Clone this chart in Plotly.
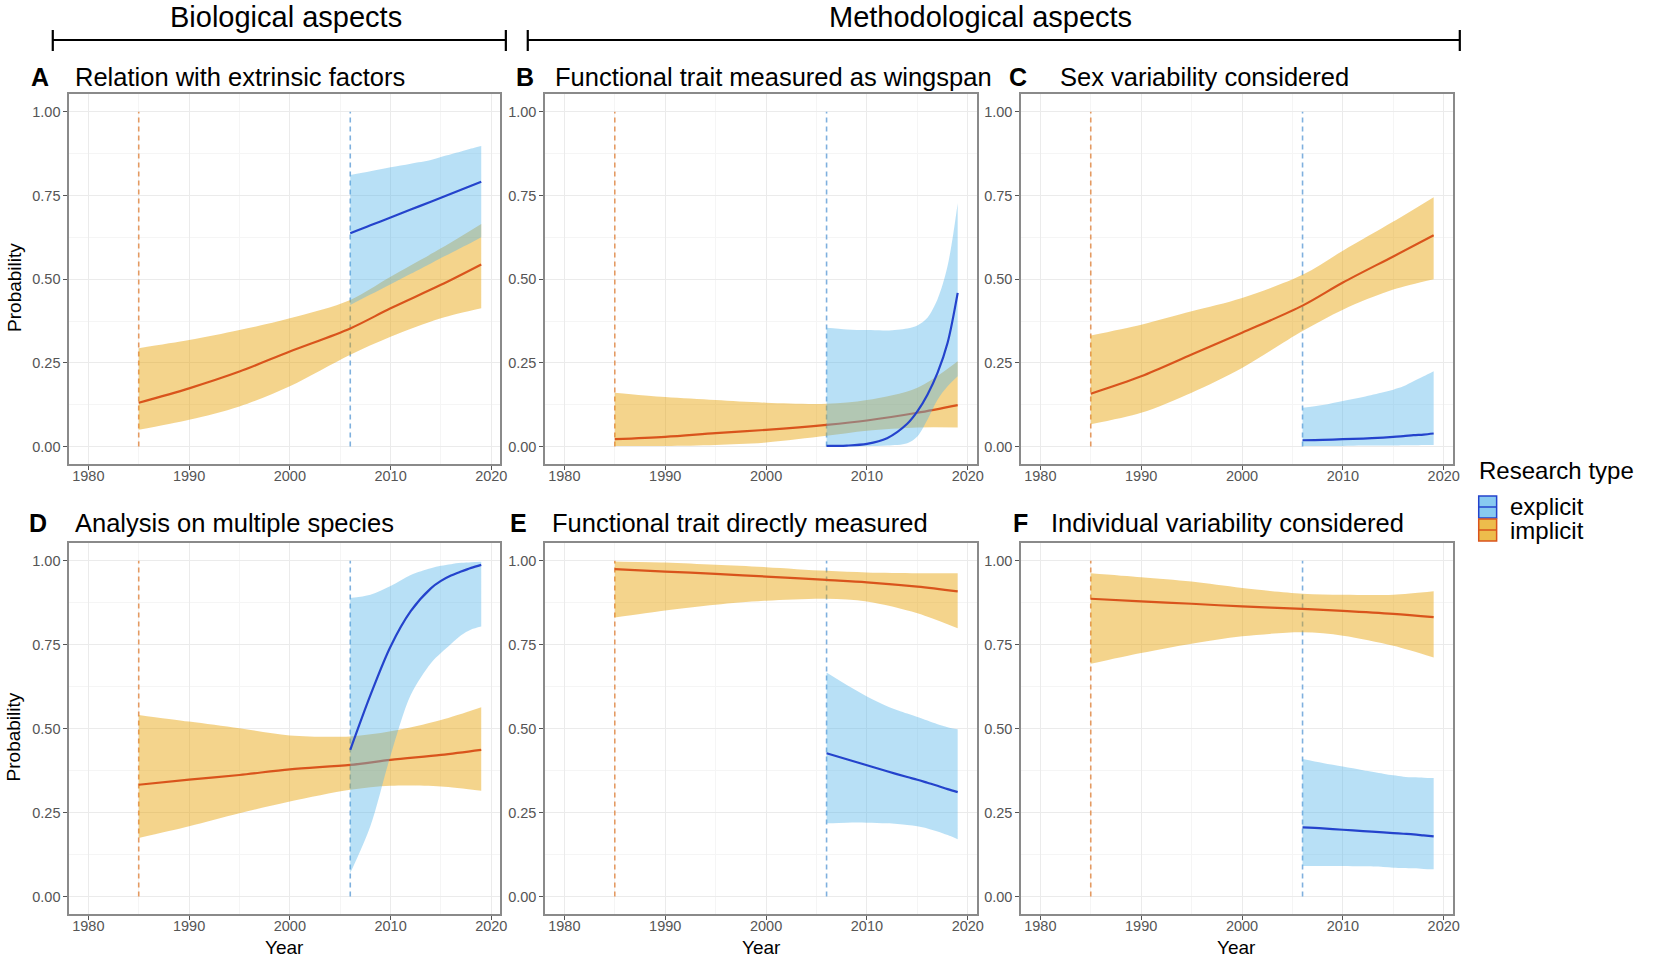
import plotly.graph_objects as go

# ---------------- data ----------------
IMP_YEARS = [1985, 1990, 1995, 2000, 2006, 2010, 2015, 2019]
EXP_YEARS = [2006, 2008, 2010, 2012, 2014, 2015, 2016, 2017, 2018, 2019]
IMPLICIT_START = 1985
EXPLICIT_START = 2006

PANEL_LETTERS = ["A", "B", "C", "D", "E", "F"]
PANEL_TITLES = [
    "Relation with extrinsic factors",
    "Functional trait measured as wingspan",
    "Sex variability considered",
    "Analysis on multiple species",
    "Functional trait directly measured",
    "Individual variability considered",
]
GROUP_TITLES = ["Biological aspects", "Methodological aspects"]
X_TICKS = [1980, 1990, 2000, 2010, 2020]
X_MINOR = [1985, 1995, 2005, 2015]
Y_TICKS = [0.0, 0.25, 0.5, 0.75, 1.0]
Y_TICK_LABELS = ["0.00", "0.25", "0.50", "0.75", "1.00"]
Y_MINOR = [0.125, 0.375, 0.625, 0.875]
LEGEND_TITLE = "Research type"
LEGEND_LABELS = ["explicit", "implicit"]

# Panel A
A_IMP_MID = [0.131, 0.174, 0.224, 0.284, 0.353, 0.413, 0.483, 0.544]
A_IMP_HI = [0.294, 0.318, 0.348, 0.383, 0.438, 0.507, 0.592, 0.665]
A_IMP_LO = [0.050, 0.080, 0.120, 0.180, 0.274, 0.328, 0.383, 0.413]
A_EXP_MID = [0.637, 0.661, 0.684, 0.708, 0.731, 0.743, 0.755, 0.767, 0.779, 0.791]
A_EXP_HI = [0.811, 0.822, 0.834, 0.845, 0.856, 0.865, 0.873, 0.881, 0.890, 0.898]
A_EXP_LO = [0.423, 0.454, 0.485, 0.516, 0.547, 0.563, 0.578, 0.594, 0.609, 0.625]
# Panel B
B_IMP_MID = [0.022, 0.029, 0.040, 0.050, 0.065, 0.078, 0.101, 0.124]
B_IMP_HI = [0.161, 0.148, 0.139, 0.131, 0.128, 0.139, 0.176, 0.255]
B_IMP_LO = [0.002, 0.002, 0.005, 0.012, 0.032, 0.047, 0.057, 0.057]
B_EXP_MID = [0.002, 0.003, 0.008, 0.025, 0.068, 0.105, 0.155, 0.220, 0.310, 0.459]
B_EXP_HI = [0.355, 0.350, 0.348, 0.347, 0.353, 0.362, 0.385, 0.440, 0.540, 0.727]
B_EXP_LO = [0.000, 0.000, 0.001, 0.003, 0.010, 0.030, 0.080, 0.140, 0.180, 0.210]
# Panel C
C_IMP_MID = [0.158, 0.210, 0.275, 0.340, 0.421, 0.490, 0.568, 0.631]
C_IMP_HI = [0.332, 0.364, 0.404, 0.444, 0.513, 0.585, 0.672, 0.745]
C_IMP_LO = [0.067, 0.101, 0.161, 0.235, 0.345, 0.409, 0.469, 0.500]
C_EXP_MID = [0.019, 0.020, 0.022, 0.024, 0.027, 0.029, 0.031, 0.034, 0.036, 0.039]
C_EXP_HI = [0.116, 0.124, 0.136, 0.148, 0.162, 0.170, 0.180, 0.195, 0.210, 0.225]
C_EXP_LO = [0.002, 0.002, 0.002, 0.003, 0.003, 0.003, 0.004, 0.004, 0.005, 0.005]
# Panel D
D_IMP_MID = [0.333, 0.348, 0.362, 0.379, 0.392, 0.407, 0.422, 0.437]
D_IMP_HI = [0.541, 0.521, 0.501, 0.480, 0.477, 0.492, 0.526, 0.564]
D_IMP_LO = [0.174, 0.209, 0.248, 0.283, 0.318, 0.330, 0.328, 0.315]
D_EXP_MID = [0.437, 0.600, 0.745, 0.850, 0.918, 0.940, 0.956, 0.968, 0.979, 0.988]
D_EXP_HI = [0.889, 0.899, 0.925, 0.958, 0.978, 0.985, 0.990, 0.994, 0.996, 0.997]
D_EXP_LO = [0.070, 0.210, 0.420, 0.600, 0.695, 0.725, 0.752, 0.778, 0.795, 0.804]
# Panel E
E_IMP_MID = [0.975, 0.968, 0.961, 0.953, 0.943, 0.936, 0.923, 0.909]
E_IMP_HI = [0.998, 0.995, 0.988, 0.981, 0.970, 0.965, 0.963, 0.963]
E_IMP_LO = [0.831, 0.852, 0.869, 0.881, 0.887, 0.879, 0.844, 0.799]
E_EXP_MID = [0.427, 0.409, 0.391, 0.373, 0.356, 0.348, 0.339, 0.330, 0.320, 0.311]
E_EXP_HI = [0.667, 0.630, 0.596, 0.567, 0.545, 0.535, 0.524, 0.513, 0.504, 0.498]
E_EXP_LO = [0.218, 0.220, 0.220, 0.218, 0.213, 0.209, 0.203, 0.194, 0.183, 0.171]
# Panel F
F_IMP_MID = [0.887, 0.879, 0.872, 0.864, 0.857, 0.851, 0.842, 0.832]
F_IMP_HI = [0.963, 0.951, 0.938, 0.919, 0.902, 0.899, 0.899, 0.909]
F_IMP_LO = [0.693, 0.725, 0.753, 0.775, 0.787, 0.777, 0.747, 0.712]
F_EXP_MID = [0.206, 0.203, 0.199, 0.195, 0.191, 0.189, 0.187, 0.185, 0.182, 0.179]
F_EXP_HI = [0.410, 0.398, 0.387, 0.376, 0.366, 0.361, 0.357, 0.355, 0.354, 0.353]
F_EXP_LO = [0.091, 0.091, 0.091, 0.090, 0.088, 0.086, 0.085, 0.084, 0.082, 0.081]

PANELS = [
    (A_IMP_MID, A_IMP_LO, A_IMP_HI, A_EXP_MID, A_EXP_LO, A_EXP_HI),
    (B_IMP_MID, B_IMP_LO, B_IMP_HI, B_EXP_MID, B_EXP_LO, B_EXP_HI),
    (C_IMP_MID, C_IMP_LO, C_IMP_HI, C_EXP_MID, C_EXP_LO, C_EXP_HI),
    (D_IMP_MID, D_IMP_LO, D_IMP_HI, D_EXP_MID, D_EXP_LO, D_EXP_HI),
    (E_IMP_MID, E_IMP_LO, E_IMP_HI, E_EXP_MID, E_EXP_LO, E_EXP_HI),
    (F_IMP_MID, F_IMP_LO, F_IMP_HI, F_EXP_MID, F_EXP_LO, F_EXP_HI),
]

# ---------------- style ----------------
W, H = 1654, 962
FONT = "Liberation Sans, Arial, sans-serif"
IMP_FILL = "rgba(230,159,0,0.45)"
EXP_FILL = "rgba(86,180,233,0.42)"
IMP_LINE = "#D9541C"
EXP_LINE = "#2443CC"
IMP_DASH = "#E49A62"
EXP_DASH = "#7FB0DE"

COLS = [(69.5, 502.5), (547.5, 981.0), (1025.5, 1459.0)]
ROWS = [(94.0, 464.0), (543.0, 914.0)]


def fx(p):
    return p / W


def fy(p):
    return 1 - p / H


fig = go.Figure()
layout = dict(
    width=W, height=H, margin=dict(l=0, r=0, t=0, b=0),
    paper_bgcolor="white", plot_bgcolor="white", showlegend=False,
    font=dict(family=FONT, color="black"),
)

annotations = []
shapes = []
SPL = dict(shape="spline", smoothing=0.9)

for i, (imid, ilo, ihi, emid, elo, ehi) in enumerate(PANELS):
    n = i + 1
    sfx = "" if n == 1 else str(n)
    xa, ya = "x" + sfx, "y" + sfx
    col = COLS[i % 3]
    row = ROWS[i // 3]

    # dashed start lines
    fig.add_trace(go.Scatter(x=[IMPLICIT_START, IMPLICIT_START], y=[0, 1], mode="lines",
                             line=dict(color=IMP_DASH, width=1.6, dash="5px,4px"),
                             xaxis=xa, yaxis=ya, hoverinfo="skip"))
    fig.add_trace(go.Scatter(x=[EXPLICIT_START, EXPLICIT_START], y=[0, 1], mode="lines",
                             line=dict(color=EXP_DASH, width=1.6, dash="5px,4px"),
                             xaxis=xa, yaxis=ya, hoverinfo="skip"))
    # implicit ribbon + line
    fig.add_trace(go.Scatter(x=IMP_YEARS, y=ilo, mode="lines", line=dict(width=0, **SPL),
                             xaxis=xa, yaxis=ya, hoverinfo="skip"))
    fig.add_trace(go.Scatter(x=IMP_YEARS, y=ihi, mode="lines", fill="tonexty",
                             fillcolor=IMP_FILL, line=dict(width=0, **SPL),
                             xaxis=xa, yaxis=ya, name="implicit"))
    fig.add_trace(go.Scatter(x=IMP_YEARS, y=imid, mode="lines",
                             line=dict(color=IMP_LINE, width=2.2, **SPL),
                             xaxis=xa, yaxis=ya, name="implicit"))
    # explicit ribbon + line
    fig.add_trace(go.Scatter(x=EXP_YEARS, y=elo, mode="lines", line=dict(width=0, **SPL),
                             xaxis=xa, yaxis=ya, hoverinfo="skip"))
    fig.add_trace(go.Scatter(x=EXP_YEARS, y=ehi, mode="lines", fill="tonexty",
                             fillcolor=EXP_FILL, line=dict(width=0, **SPL),
                             xaxis=xa, yaxis=ya, name="explicit"))
    fig.add_trace(go.Scatter(x=EXP_YEARS, y=emid, mode="lines",
                             line=dict(color=EXP_LINE, width=2.2, **SPL),
                             xaxis=xa, yaxis=ya, name="explicit"))

    axis_common = dict(
        showline=True, linecolor="#8a8a8a", linewidth=1.7, mirror=True,
        zeroline=False, showgrid=True, gridcolor="#EBEBEB", gridwidth=1,
        ticks="outside", ticklen=4, tickwidth=1, tickcolor="#555555",
        tickfont=dict(family=FONT, size=14.5, color="#555555"),
    )
    layout["xaxis" + sfx] = dict(
        axis_common, domain=[fx(col[0]), fx(col[1])], range=[1978.1, 2020.9],
        tickvals=X_TICKS, anchor=ya, ticklabelstandoff=-6,
        minor=dict(tickvals=X_MINOR, showgrid=True, gridcolor="#F5F5F5", gridwidth=0.8, ticks=""),
    )
    layout["yaxis" + sfx] = dict(
        axis_common, domain=[fy(row[1]), fy(row[0])], range=[-0.052, 1.053],
        tickvals=Y_TICKS, ticktext=Y_TICK_LABELS, anchor=xa,
        minor=dict(tickvals=Y_MINOR, showgrid=True, gridcolor="#F5F5F5", gridwidth=0.8, ticks=""),
    )

    # panel letter + title
    ty = 77 if i < 3 else 523
    letter_x = [40, 527, 1022, 38, 521, 1025][i]
    title_x = [73, 555, 1062, 73, 552, 1053][i]
    annotations.append(dict(x=fx(letter_x), y=fy(ty), xref="paper", yref="paper",
                            text="<b>%s</b>" % PANEL_LETTERS[i], showarrow=False,
                            xanchor="center", yanchor="middle",
                            font=dict(family=FONT, size=25, color="black")))
    annotations.append(dict(x=fx(title_x), y=fy(ty), xref="paper", yref="paper",
                            text=PANEL_TITLES[i], showarrow=False,
                            xanchor="left", yanchor="middle",
                            font=dict(family=FONT, size=25.5, color="black")))

# axis titles
for r in ROWS:
    annotations.append(dict(x=fx(14), y=fy((r[0] + r[1]) / 2 + 8), xref="paper", yref="paper",
                            text="Probability", textangle=-90, showarrow=False,
                            xanchor="center", yanchor="middle",
                            font=dict(family=FONT, size=19, color="black")))
for c in COLS:
    annotations.append(dict(x=fx((c[0] + c[1]) / 2), y=fy(947), xref="paper", yref="paper",
                            text="Year", showarrow=False, xanchor="center", yanchor="middle",
                            font=dict(family=FONT, size=19, color="black")))

# group headers
for text, (x0, x1), cx in zip(GROUP_TITLES, [(53, 508), (530, 1466)], [287, 985]):
    annotations.append(dict(x=fx(cx), y=fy(17), xref="paper", yref="paper", text=text,
                            showarrow=False, xanchor="center", yanchor="middle",
                            font=dict(family=FONT, size=29, color="black")))
    shapes.append(dict(type="line", xref="paper", yref="paper", x0=fx(x0), x1=fx(x1),
                       y0=fy(40), y1=fy(40), line=dict(color="black", width=2.2)))
    for xe in (x0, x1):
        shapes.append(dict(type="line", xref="paper", yref="paper", x0=fx(xe), x1=fx(xe),
                           y0=fy(30), y1=fy(51), line=dict(color="black", width=2.2)))

# legend (drawn manually)
annotations.append(dict(x=fx(1483), y=fy(470), xref="paper", yref="paper", text=LEGEND_TITLE,
                        showarrow=False, xanchor="left", yanchor="middle",
                        font=dict(family=FONT, size=24, color="black")))
legend_specs = [("rgba(86,180,233,0.7)", EXP_LINE, 496), ("rgba(230,159,0,0.7)", IMP_LINE, 519)]
for (fill, lc, top), label in zip(legend_specs, LEGEND_LABELS):
    shapes.append(dict(type="rect", xref="paper", yref="paper", x0=fx(1485), x1=fx(1503),
                       y0=fy(top + 22), y1=fy(top), fillcolor=fill, line=dict(color=lc, width=1.5)))
    shapes.append(dict(type="line", xref="paper", yref="paper", x0=fx(1485), x1=fx(1503),
                       y0=fy(top + 11), y1=fy(top + 11), line=dict(color=lc, width=1.5)))
    annotations.append(dict(x=fx(1514), y=fy(top + 11), xref="paper", yref="paper", text=label,
                            showarrow=False, xanchor="left", yanchor="middle",
                            font=dict(family=FONT, size=24, color="black")))

layout["annotations"] = annotations
layout["shapes"] = shapes
fig.update_layout(**layout)
fig.write_html("out.html", config={"displayModeBar": False},
               post_script="document.body.style.margin='0';")
